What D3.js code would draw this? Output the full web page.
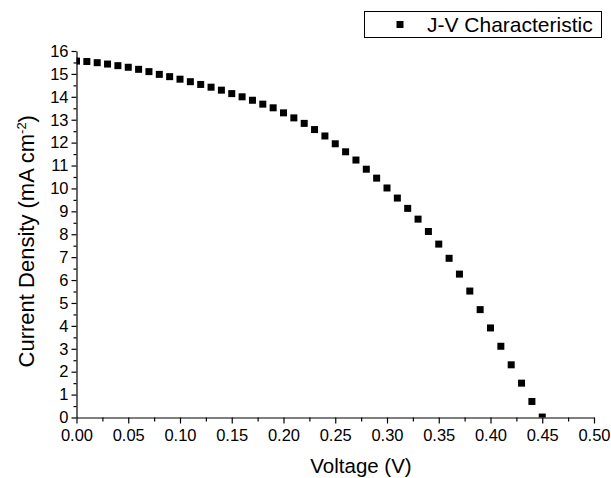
<!DOCTYPE html>
<html>
<head>
<meta charset="utf-8">
<script src="https://cdn.jsdelivr.net/npm/d3@7"></script>
<style>
  body { margin: 0; background: #fff; }
  text { font-family: "Liberation Sans", Arial, sans-serif; fill: #000; }
</style>
</head>
<body>
<script>
// J-V curve, voltage in V, current density in mA cm^-2
const voltage = [0.00, 0.01, 0.02, 0.03, 0.04, 0.05, 0.06, 0.07, 0.08, 0.09,
                 0.10, 0.11, 0.12, 0.13, 0.14, 0.15, 0.16, 0.17, 0.18, 0.19,
                 0.20, 0.21, 0.22, 0.23, 0.24, 0.25, 0.26, 0.27, 0.28, 0.29,
                 0.30, 0.31, 0.32, 0.33, 0.34, 0.35, 0.36, 0.37, 0.38, 0.39,
                 0.40, 0.41, 0.42, 0.43, 0.44, 0.45];
const current = [15.56, 15.54, 15.49, 15.43, 15.36, 15.29, 15.20, 15.10, 14.98, 14.88,
                 14.77, 14.66, 14.54, 14.42, 14.29, 14.14, 14.00, 13.85, 13.68, 13.52,
                 13.30, 13.08, 12.84, 12.57, 12.29, 11.95, 11.60, 11.24, 10.84, 10.45,
                 10.02, 9.58, 9.13, 8.66, 8.12, 7.57, 6.95, 6.26, 5.52, 4.71,
                 3.91, 3.11, 2.30, 1.50, 0.70, 0.02];
const xTicks = [0, 0.05, 0.10, 0.15, 0.20, 0.25, 0.30, 0.35, 0.40, 0.45, 0.50];
const yTicks = d3.range(0, 17, 1);
const seriesName = "J-V Characteristic";

const data = voltage.map((v, i) => ({ v, j: current[i] }));

const W = 611, H = 478;
const x = d3.scaleLinear().domain([0, 0.5]).range([76.5, 594]);
const y = d3.scaleLinear().domain([0, 16]).range([417.5, 51]);

const svg = d3.select("body").append("svg")
    .attr("width", W)
    .attr("height", H);

svg.append("defs").append("clipPath")
    .attr("id", "plot")
  .append("rect")
    .attr("x", x(0)).attr("y", y(16))
    .attr("width", x(0.5) - x(0)).attr("height", y(0) - y(16));

// minor ticks
svg.append("g")
    .attr("transform", `translate(0,${y(0)})`)
    .call(d3.axisBottom(x).tickValues(d3.range(0.025, 0.5, 0.05)).tickSize(4).tickFormat(""))
    .call(g => g.select(".domain").remove());
svg.append("g")
    .attr("transform", `translate(${x(0)},0)`)
    .call(d3.axisLeft(y).tickValues(d3.range(0.5, 16, 1)).tickSize(3).tickFormat(""))
    .call(g => g.select(".domain").remove());

// main axes
svg.append("g")
    .attr("transform", `translate(0,${y(0)})`)
    .call(d3.axisBottom(x).tickValues(xTicks).tickSize(6).tickSizeOuter(0).tickPadding(6)
        .tickFormat(d3.format(".2f")));
svg.append("g")
    .attr("transform", `translate(${x(0)},0)`)
    .call(d3.axisLeft(y).tickValues(yTicks).tickSize(5).tickSizeOuter(0).tickPadding(3));

svg.selectAll(".tick text")
    .style("font-family", "'Liberation Sans', Arial, sans-serif")
    .style("font-size", "16.5px")
    .attr("fill", "#000");
svg.selectAll(".tick line, .domain").attr("stroke", "#000").attr("stroke-width", 1.2);

// points
svg.append("g")
    .attr("clip-path", "url(#plot)")
  .selectAll("rect")
  .data(data)
  .join("rect")
    .attr("x", d => x(d.v) - 3.5)
    .attr("y", d => y(d.j) - 3.5)
    .attr("width", 7)
    .attr("height", 7)
    .attr("fill", "#000");

// axis titles
svg.append("text")
    .attr("x", 361)
    .attr("y", 473)
    .attr("text-anchor", "middle")
    .style("font-size", "20.5px")
    .text("Voltage (V)");

const yt = svg.append("text")
    .attr("transform", `translate(34,${(y(0) + y(16)) / 2 + 7}) rotate(-90)`)
    .attr("text-anchor", "middle")
    .style("font-size", "22px");
yt.append("tspan").text("Current Density (mA cm");
yt.append("tspan").attr("dy", -8).style("font-size", "13px").text("-2");
yt.append("tspan").attr("dy", 8).text(")");

// legend
const lg = svg.append("g");
lg.append("rect")
    .attr("x", 364.5).attr("y", 11.5)
    .attr("width", 237).attr("height", 26)
    .attr("fill", "#fff").attr("stroke", "#000");
lg.append("rect")
    .attr("x", 396.5).attr("y", 21)
    .attr("width", 7).attr("height", 7)
    .attr("fill", "#000");
lg.append("text")
    .attr("x", 427).attr("y", 32)
    .style("font-size", "21px")
    .text(seriesName);
</script>
</body>
</html>
